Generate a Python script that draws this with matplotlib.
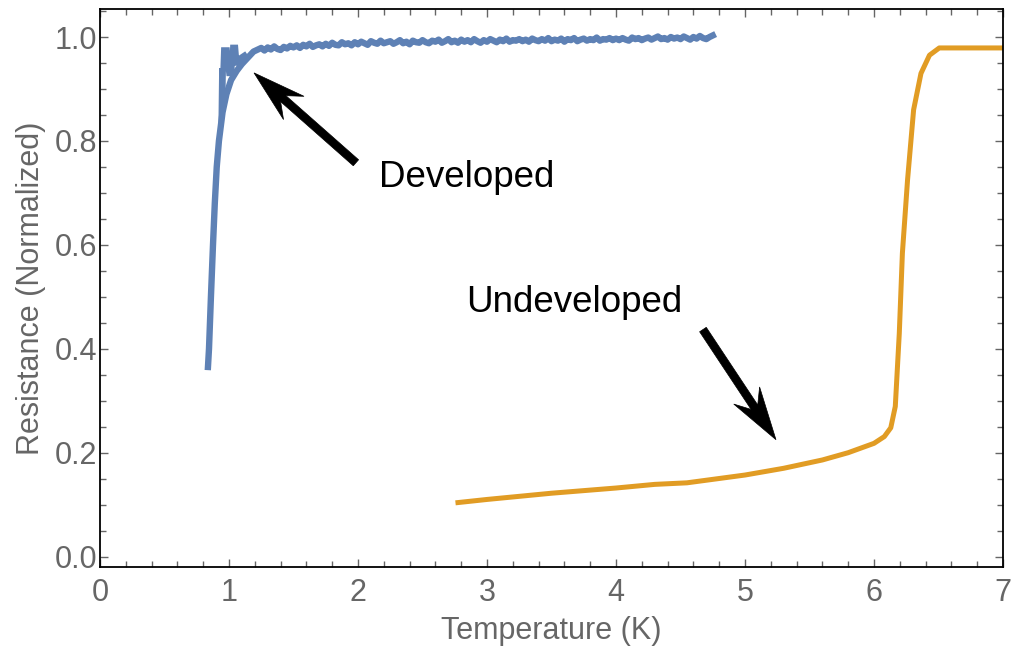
import matplotlib
matplotlib.use("Agg")
import numpy as np
import matplotlib.pyplot as plt
from matplotlib.patches import Polygon
from matplotlib.ticker import MultipleLocator

plt.rcParams['font.family'] = ['Liberation Sans', 'DejaVu Sans']

# developed sample: steep transition
t_dev_rise = [0.837, 0.845, 0.86, 0.876, 0.89, 0.905, 0.922, 0.95, 0.98, 1.016, 1.06, 1.1, 1.145, 1.19]
r_dev_rise = [0.365, 0.40, 0.50, 0.60, 0.68, 0.75, 0.80, 0.855, 0.89, 0.917, 0.935, 0.948, 0.96, 0.972]

# developed sample: upper branch with spikes near the transition
t_dev_spk = [0.94, 0.945, 0.95, 0.955, 0.96, 0.965, 0.975, 0.985, 0.995, 1.0, 1.02, 1.03, 1.035, 1.05, 1.06, 1.07, 1.09, 1.12]
r_dev_spk = [0.84, 0.94, 0.87, 0.94, 0.975, 0.975, 0.975, 0.975, 0.94, 0.93, 0.93, 0.98, 0.98, 0.98, 0.95, 0.95, 0.96, 0.965]

# developed sample: noisy plateau
t_dev_flat = [1.250, 1.275, 1.300, 1.325, 1.350, 1.375, 1.400, 1.425, 1.450, 1.475,
              1.500, 1.525, 1.550, 1.575, 1.600, 1.625, 1.650, 1.675, 1.700, 1.725,
              1.750, 1.775, 1.800, 1.825, 1.850, 1.875, 1.900, 1.925, 1.950, 1.975,
              2.000, 2.025, 2.050, 2.075, 2.100, 2.125, 2.150, 2.175, 2.200, 2.225,
              2.250, 2.275, 2.300, 2.325, 2.350, 2.375, 2.400, 2.425, 2.450, 2.475,
              2.500, 2.525, 2.550, 2.575, 2.600, 2.625, 2.650, 2.675, 2.700, 2.725,
              2.750, 2.775, 2.800, 2.825, 2.850, 2.875, 2.900, 2.925, 2.950, 2.975,
              3.000, 3.025, 3.050, 3.075, 3.100, 3.125, 3.150, 3.175, 3.200, 3.225,
              3.250, 3.275, 3.300, 3.325, 3.350, 3.375, 3.400, 3.425, 3.450, 3.475,
              3.500, 3.525, 3.550, 3.575, 3.600, 3.625, 3.650, 3.675, 3.700, 3.725,
              3.750, 3.775, 3.800, 3.825, 3.850, 3.875, 3.900, 3.925, 3.950, 3.975,
              4.000, 4.025, 4.050, 4.075, 4.100, 4.125, 4.150, 4.175, 4.200, 4.225,
              4.250, 4.275, 4.300, 4.325, 4.350, 4.375, 4.400, 4.425, 4.450, 4.475,
              4.500, 4.525, 4.550, 4.575, 4.600, 4.625, 4.650, 4.675, 4.700, 4.725,
              4.750]
r_dev_flat = [0.979, 0.974, 0.980, 0.976, 0.982, 0.977, 0.975, 0.981, 0.978, 0.983,
              0.980, 0.984, 0.979, 0.985, 0.982, 0.987, 0.981, 0.984, 0.986, 0.982,
              0.987, 0.983, 0.989, 0.985, 0.984, 0.990, 0.986, 0.988, 0.984, 0.990,
              0.986, 0.991, 0.988, 0.985, 0.992, 0.989, 0.987, 0.993, 0.988, 0.990,
              0.992, 0.987, 0.990, 0.994, 0.988, 0.991, 0.986, 0.993, 0.990, 0.989,
              0.994, 0.990, 0.988, 0.993, 0.991, 0.995, 0.989, 0.992, 0.996, 0.990,
              0.993, 0.989, 0.995, 0.991, 0.994, 0.990, 0.996, 0.992, 0.989, 0.994,
              0.991, 0.996, 0.993, 0.990, 0.995, 0.992, 0.997, 0.991, 0.994, 0.993,
              0.996, 0.992, 0.995, 0.991, 0.997, 0.994, 0.992, 0.996, 0.993, 0.998,
              0.992, 0.995, 0.993, 0.997, 0.991, 0.996, 0.994, 0.998, 0.992, 0.995,
              0.997, 0.993, 0.996, 0.994, 0.999, 0.993, 0.996, 0.995, 0.998, 0.994,
              0.997, 0.994, 0.998, 0.995, 0.993, 0.999, 0.996, 0.998, 0.994, 0.997,
              0.999, 0.995, 0.998, 1.001, 0.996, 0.998, 0.995, 1.000, 0.997, 0.999,
              0.996, 1.001, 0.998, 0.995, 1.000, 0.997, 1.002, 0.998, 0.996, 1.000,
              1.003]

# undeveloped sample
t_undev = [2.775, 3.0, 3.5, 4.0, 4.3, 4.55, 5.0, 5.3, 5.6, 5.8, 6.0, 6.08, 6.13, 6.165, 6.196,
           6.22, 6.26, 6.307, 6.364, 6.43, 6.506, 7.0]
r_undev = [0.104, 0.110, 0.122, 0.132, 0.139, 0.142, 0.157, 0.170, 0.186, 0.200, 0.218, 0.231, 0.248, 0.289, 0.43,
           0.584, 0.725, 0.86, 0.93, 0.965, 0.979, 0.979]

blue = '#5E81B5'
orange = '#E19C24'
gray = '#666666'


def draw_arrow(ax, tip, tail, shaft=8, head_len=53, head_w=31, notch=14):
    # arrow with a notched head, built in pixel space from data points
    p1 = ax.transData.transform(tip)
    p0 = ax.transData.transform(tail)
    u = (p1 - p0) / np.hypot(*(p1 - p0))
    n = np.array([-u[1], u[0]])
    back = p1 - u * (head_len - notch)
    barb = p1 - u * head_len
    pts = [p0 + n * shaft / 2, back + n * shaft / 2, barb + n * head_w / 2, p1,
           barb - n * head_w / 2, back - n * shaft / 2, p0 - n * shaft / 2]
    ax.add_patch(Polygon(pts, closed=True, transform=None, facecolor='black',
                         edgecolor='black', lw=0.5, zorder=5))


fig = plt.figure(figsize=(10.11, 6.5), dpi=100)
ax = fig.add_axes([0.0989, 0.1277, 0.8932, 0.8585])

ax.plot(t_dev_spk, r_dev_spk, color=blue, lw=4, solid_joinstyle='miter')
ax.plot(t_dev_rise + t_dev_flat, r_dev_rise + r_dev_flat, color=blue, lw=4.6)
ax.plot(t_undev, r_undev, color=orange, lw=3.6)

ax.set_xlim(0, 7)
ax.set_ylim(-0.02, 1.054)

ax.xaxis.set_major_locator(MultipleLocator(1))
ax.xaxis.set_minor_locator(MultipleLocator(0.2))
ax.yaxis.set_major_locator(MultipleLocator(0.2))
ax.yaxis.set_minor_locator(MultipleLocator(0.05))
ax.yaxis.set_major_formatter(plt.FuncFormatter(lambda v, p: f'{v:.1f}'))

ax.tick_params(which='both', direction='in', top=True, right=True, color=gray,
               labelcolor=gray, labelsize=22)
ax.tick_params(which='major', length=6, width=1)
ax.tick_params(which='minor', length=4, width=1)
ax.tick_params(axis='x', pad=8)
ax.tick_params(axis='y', pad=2)
for sp in ax.spines.values():
    sp.set_linewidth(1.3)
    sp.set_color('black')

ax.set_xlabel('Temperature (K)', fontsize=22, color=gray, labelpad=6)
ax.set_ylabel('Resistance (Normalized)', fontsize=22, color=gray, labelpad=6)

draw_arrow(ax, (1.194, 0.931), (1.984, 0.758))
draw_arrow(ax, (5.24, 0.225), (4.674, 0.437))

ax.text(2.163, 0.7115, 'Developed', fontsize=26.5, color='black', va='baseline')
ax.text(2.837, 0.471, 'Undeveloped', fontsize=26.5, color='black', va='baseline')

fig.savefig('out.png', dpi=100)
